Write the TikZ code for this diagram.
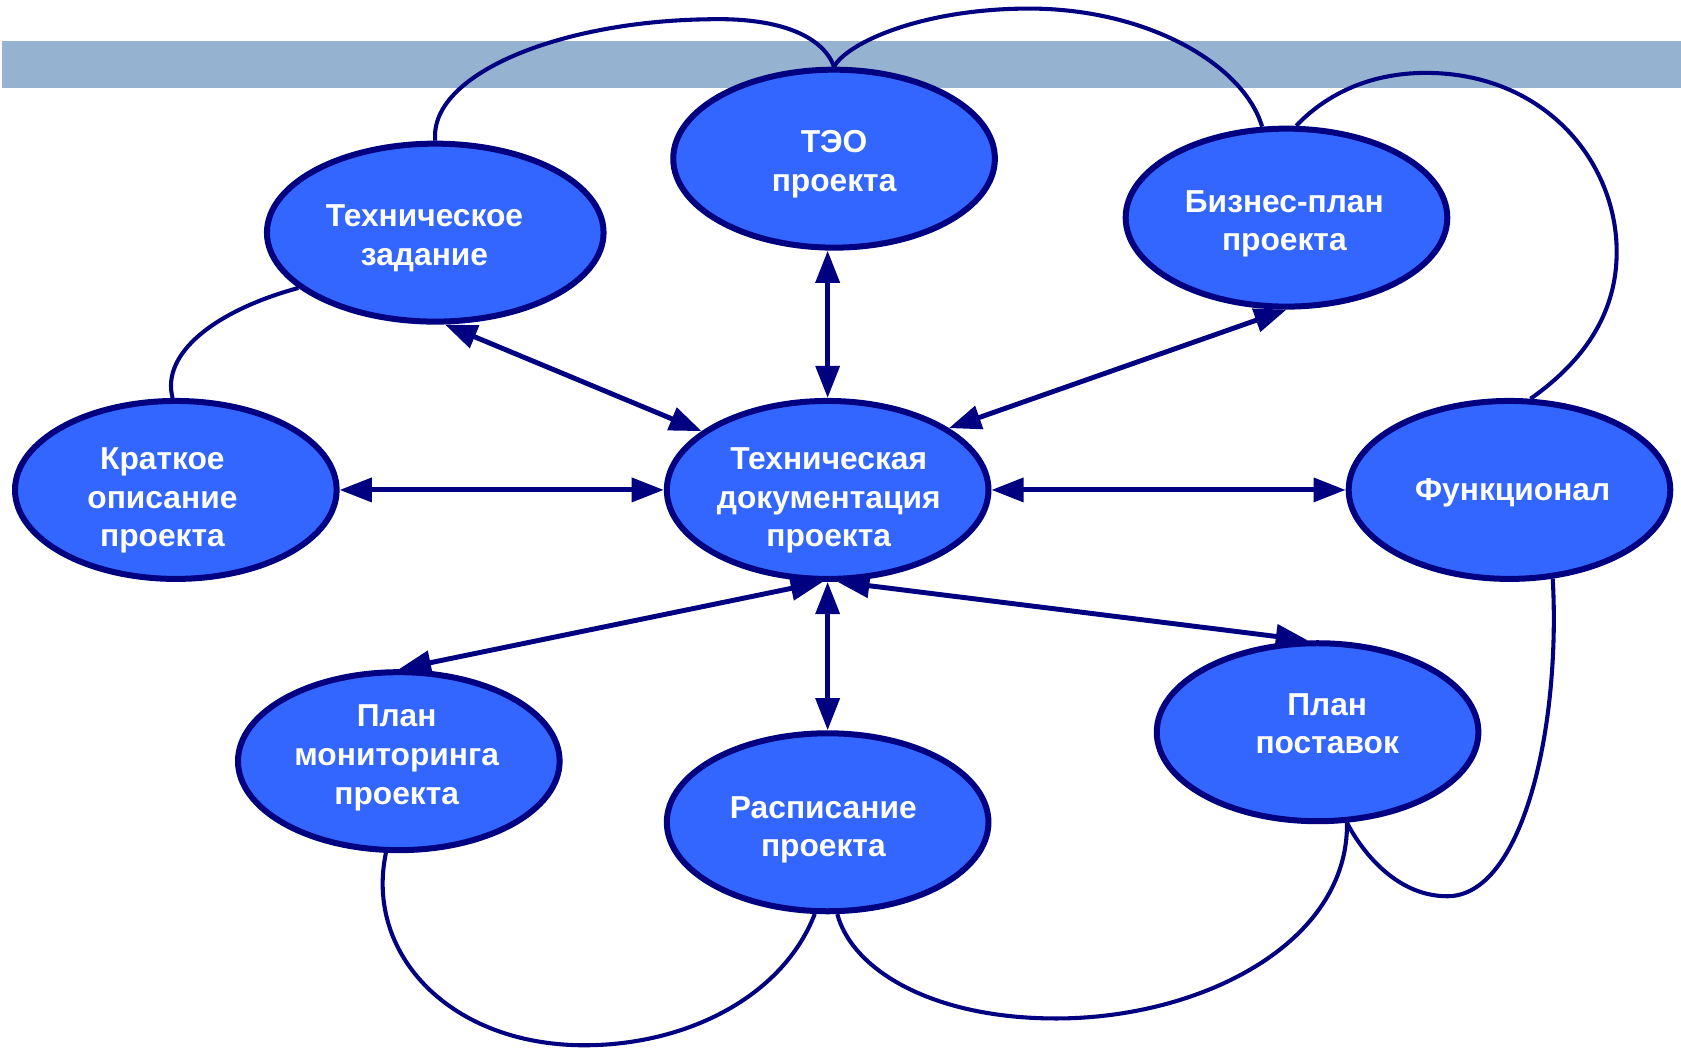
\documentclass[tikz,border=0pt]{standalone}
\usepackage{fontspec}
\setmainfont{Liberation Sans}
\usetikzlibrary{shapes.geometric,arrows.meta,calc}
\definecolor{ellfill}{RGB}{51,102,255}
\definecolor{navyline}{RGB}{0,0,128}
\definecolor{bannerblue}{RGB}{149,179,208}
\begin{document}
\begin{tikzpicture}[x=0.5pt,y=-0.5pt,
  bubble/.style={ellipse, draw=navyline, line width=2.8pt, fill=ellfill, minimum width=150pt, minimum height=83pt, inner sep=0pt},
  btext/.style={text=white, font=\fontsize{14.8}{18}\selectfont\bfseries, align=center, inner sep=0pt},
  link/.style={draw=navyline, line width=2.3pt, {Triangle[length=15pt,width=11pt]}-{Triangle[length=15pt,width=11pt]}},
  curveline/.style={draw=navyline, line width=1.9pt}]
\useasboundingbox (0,0) rectangle (1568,978);
\fill[bannerblue] (2,38) rectangle (1568,82);

% ellipses
\node[bubble] (teo) at (778,148) {};
\node[bubble, minimum width=157pt] (tz) at (406,217) {};
\node[bubble] (biz) at (1200,203) {};
\node[bubble] (kr) at (164,457) {};
\node[bubble] (doc) at (772,457) {};
\node[bubble] (func) at (1408,457) {};
\node[bubble] (pm) at (372,710) {};
\node[bubble] (ras) at (772,767) {};
\node[bubble] (pp) at (1229,683) {};

% texts
\node[btext] (teot) at ($(teo.center)+(0,5)$) {ТЭО\\проекта};
\node[btext] (tzt) at ($(tz.center)+(-10,5.5)$) {Техническое\\задание};
\node[btext] (bizt) at ($(biz.center)+(-2,6)$) {Бизнес-план\\проекта};
\node[btext] (krt) at ($(kr.center)+(-12.5,10)$) {Краткое\\описание\\проекта};
\node[btext] (doct) at ($(doc.center)+(1,10)$) {Техническая\\документация\\проекта};
\node[btext] (funct) at ($(func.center)+(3,3)$) {Функционал};
\node[btext] (pmt) at ($(pm.center)+(-2,-3)$) {План\\мониторинга\\проекта};
\node[btext] (rast) at ($(ras.center)+(-4,7)$) {Расписание\\проекта};
\node[btext] (ppt) at ($(pp.center)+(9,-8)$) {План\\поставок};

% straight double arrows
\draw[link] (doc.north) -- (doc.north |- teo.south);
\draw[link] (tz.-84) -- (doc.155);
\draw[link] (biz.south) -- (doc.27);
\draw[link] (kr.east) -- (doc.west);
\draw[link] (doc.east) -- (func.west);
\draw[link] (doc.-93) -- (pm.north);
\draw[link] (doc.south) -- (ras.north);
\draw[link] (doc.-84) -- (pp.96);

% curved links
\draw[curveline] (tz.north) .. controls (400,70) and (520,20) .. (660,18) .. controls (730,16) and (768,35) .. (teo.north);
\draw[curveline] (teo.north) .. controls (790,40) and (860,8) .. (960,8) .. controls (1070,8) and (1160,60) .. (biz.105);
\draw[curveline] (biz.84) .. controls (1235,90) and (1275,68) .. (1330,68) .. controls (1440,68) and (1508,150) .. (1508,235) .. controls (1508,290) and (1480,335) .. (func.77);
\draw[curveline] (func.-64) .. controls (1456,680) and (1420,836) .. (1350,836) .. controls (1300,836) and (1268,790) .. (pp.-72);
\draw[curveline] (pp.-72) .. controls (1258,880) and (1120,950) .. (985,950) .. controls (870,950) and (795,905) .. (ras.-84);
\draw[curveline] (ras.-98) .. controls (730,930) and (640,975) .. (545,975) .. controls (420,975) and (340,890) .. (pm.-98);
\draw[curveline] (tz.-158) .. controls (200,290) and (150,330) .. (kr.92);
\end{tikzpicture}
\end{document}
